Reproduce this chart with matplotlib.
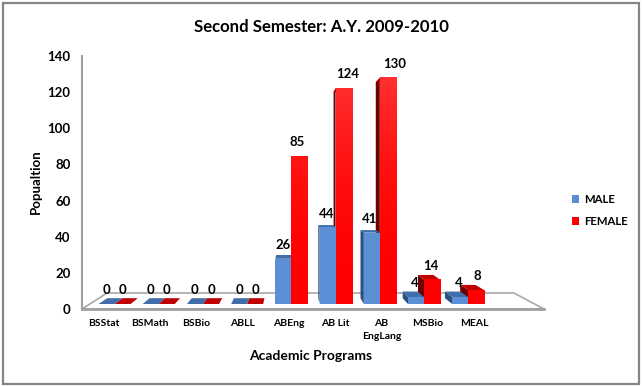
import matplotlib
matplotlib.use('Agg')
import matplotlib.pyplot as plt
from matplotlib.colors import LinearSegmentedColormap
from matplotlib.patches import Patch, Polygon, Rectangle
import numpy as np

programs = ['BSStat', 'BSMath', 'BSBio', 'ABLL', 'ABEng', 'AB Lit', 'AB\nEngLang', 'MSBio', 'MEAL']
male = [0, 0, 0, 0, 26, 44, 41, 4, 4]
female = [0, 0, 0, 0, 85, 124, 130, 14, 8]
y_ticks = [0, 20, 40, 60, 80, 100, 120, 140]

# small label nudges in pixels, the 3d chart moves them around
male_dx = [0, 0, 0, 0, 0, -1, -2, -1, -1]
female_dx = [0, 0, 0, 0, -2, 4, 7, -1, 1]

W, H = 642, 386
BAR_W = 0.362
DEPTH = 0.045
VX, VY = 3.98, 74.0
BLUE = ['#5b8fd5', '#3f6ea8', '#2b4f80']
RED = ['#ff0000', '#bf0000', '#6e0000']

plt.rcParams['font.family'] = ['Lato', 'DejaVu Sans']
plt.rcParams['font.weight'] = 'bold'


def box(left, top, right, bottom):
    return [left / W, 1 - bottom / H, (right - left) / W, (bottom - top) / H]


def back(x, y):
    return x + (VX - x) * DEPTH, y + (VY - y) * DEPTH


fig = plt.figure(figsize=(W / 100, H / 100), dpi=100, facecolor='white')
fig.add_artist(Rectangle((3 / W, 2 / H), 636 / W, 381 / H, transform=fig.transFigure,
                         fill=False, edgecolor='#858585', linewidth=1.6))

# walls, floor and the axis texts
ax = fig.add_axes(box(82, 56, 544, 309))
ax.set_xlim(-0.476, 9.51)
ax.set_ylim(0, 140)
for side in ['top', 'right', 'bottom']:
    ax.spines[side].set_visible(False)
ax.spines['left'].set_color('#a0a0a0')
ax.spines['left'].set_linewidth(1.5)
ax.set_xticks(range(len(programs)))
ax.set_xticklabels(programs, fontsize=7.5, linespacing=1.45, va='top')
ax.set_yticks(y_ticks)
ax.tick_params(axis='x', length=0, pad=7.5)
ax.tick_params(axis='y', length=0, pad=8.3, labelsize=9.5)
floor = Polygon([(0, 0), (25 / 462, 16 / 253), (432 / 462, 16 / 253), (1, 0)], closed=True,
                transform=ax.transAxes, facecolor='white', edgecolor='#a8a8a8', linewidth=1.2,
                clip_on=False)
ax.add_patch(floor)
ax.plot([0, 1], [0, 0], transform=ax.transAxes, color='#a0a0a0', linewidth=2, clip_on=False)

fig.text(321 / W, 1 - 27 / H, 'Second Semester: A.Y. 2009-2010', fontsize=12.1,
         ha='center', va='center')
fig.text(36 / W, 1 - 182 / H, 'Popualtion', fontsize=9.5, rotation=90, ha='center', va='center')
fig.text(311 / W, 1 - 356 / H, 'Academic Programs', fontsize=10, ha='center', va='center')

# bars live on their own axes since the floor sits above the wall zero
bx = fig.add_axes(box(92.5, 60.4, 490.3, 304))
bx.set_xlim(-0.5, 8.5)
bx.set_ylim(0, 140)
bx.patch.set_alpha(0)
bx.axis('off')

red_fade = LinearSegmentedColormap.from_list('red_fade', ['#ff0000', '#ff3030'])


def draw_sides(x0, x1, v, colors):
    if x0 > VX:
        bx.add_patch(Polygon([(x0, 0), back(x0, 0), back(x0, v), (x0, v)],
                             facecolor=colors[2], edgecolor='none', clip_on=False))
    if x1 < VX:
        bx.add_patch(Polygon([(x1, 0), back(x1, 0), back(x1, v), (x1, v)],
                             facecolor=colors[2], edgecolor='none', clip_on=False))
    bx.add_patch(Polygon([(x0, v), back(x0, v), back(x1, v), (x1, v)],
                         facecolor=colors[1], edgecolor='none', clip_on=False))


for i in range(len(programs)):
    x_m, x_f = i - BAR_W, i
    draw_sides(x_f, x_f + BAR_W, female[i], RED)
    draw_sides(x_m, x_m + BAR_W, male[i], BLUE)
    bx.bar(x_m, male[i], BAR_W, align='edge', color=BLUE[0], zorder=2)
    if female[i] > 0:
        grad = np.linspace(0, female[i] / 130, 60)[::-1].reshape(-1, 1) ** 2
        bx.imshow(grad, extent=(x_f, x_f + BAR_W, 0, female[i]), cmap=red_fade, vmin=0, vmax=1,
                  aspect='auto', zorder=3)
    bx.annotate(str(male[i]), (i - BAR_W / 2, male[i]), xytext=(male_dx[i] * 0.72, 10), textcoords='offset points',
                ha='center', va='center', fontsize=9.5, zorder=5, annotation_clip=False)
    bx.annotate(str(female[i]), (i + BAR_W / 2, female[i]), xytext=(female_dx[i] * 0.72, 10), textcoords='offset points',
                ha='center', va='center', fontsize=9.5, zorder=5, annotation_clip=False)
bx.set_xlim(-0.5, 8.5)
bx.set_ylim(0, 140)

handles = [Patch(facecolor=BLUE[0], label='MALE'), Patch(facecolor=RED[0], label='FEMALE')]
fig.legend(handles=handles, loc='center left', bbox_to_anchor=(571.5 / W, 1 - 210.5 / H), frameon=False,
           fontsize=8.2, handlelength=0.62, handleheight=0.7, handletextpad=0.45, labelspacing=1.0,
           borderpad=0, borderaxespad=0)

fig.savefig('out.png', dpi=100)
